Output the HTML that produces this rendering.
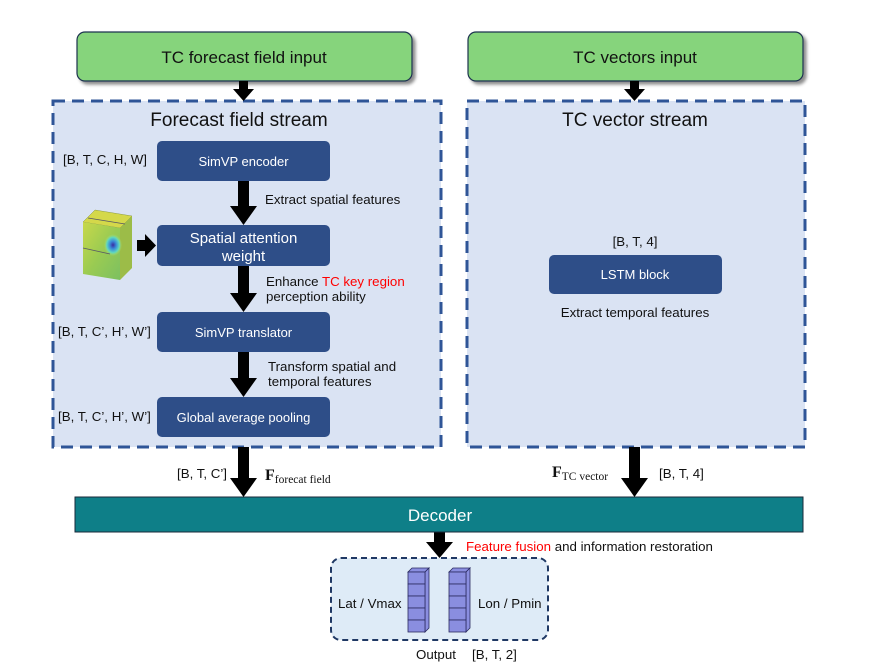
<!DOCTYPE html>
<html><head><meta charset="utf-8"><style>
html,body{margin:0;padding:0;background:#fff;}
svg{display:block;font-family:"Liberation Sans",sans-serif;}
</style></head><body>
<svg width="878" height="670" viewBox="0 0 878 670" xmlns="http://www.w3.org/2000/svg">
<defs>
<filter id="sh" x="-5%" y="-10%" width="115%" height="130%"><feDropShadow dx="3" dy="3" stdDeviation="1.5" flood-color="#000" flood-opacity="0.45"/></filter>
<linearGradient id="cube" x1="0" y1="0" x2="1" y2="1"><stop offset="0" stop-color="#c8d84a"/><stop offset="0.5" stop-color="#9acb52"/><stop offset="1" stop-color="#7cc060"/></linearGradient>
<radialGradient id="blob" cx="0.5" cy="0.5" r="0.5"><stop offset="0" stop-color="#3a2aa0"/><stop offset="0.35" stop-color="#3a8ad8"/><stop offset="0.7" stop-color="#60d8c0"/><stop offset="1" stop-color="#b8e060" stop-opacity="0"/></radialGradient>
</defs>

<rect x="77" y="32" width="335" height="49" rx="8" fill="#86d47c" stroke="#1f3350" stroke-width="1.2" filter="url(#sh)"/>
<text x="244" y="63" font-size="17" text-anchor="middle" fill="#111">TC forecast field input</text>
<rect x="468" y="32" width="335" height="49" rx="8" fill="#86d47c" stroke="#1f3350" stroke-width="1.2" filter="url(#sh)"/>
<text x="635" y="63" font-size="17" text-anchor="middle" fill="#111">TC vectors input</text>

<rect x="53" y="101" width="388" height="346" fill="#dae3f3" stroke="#2f5597" stroke-width="3" stroke-dasharray="12,7"/>
<rect x="467" y="101" width="338" height="346" fill="#dae3f3" stroke="#2f5597" stroke-width="3" stroke-dasharray="12,7"/>
<text x="239" y="126" font-size="19" text-anchor="middle" fill="#111">Forecast field stream</text>
<text x="635" y="126" font-size="19" text-anchor="middle" fill="#111">TC vector stream</text>

<g fill="#000">
<polygon points="239,81 248,81 248,89 254,89 243.5,101 233,89 239,89"/>
<polygon points="630,81 639,81 639,89 645,89 634.5,101 624,89 630,89"/>
<polygon points="238,181 249,181 249,206 257,206 243.5,225 230,206 238,206"/>
<polygon points="238,266 249,266 249,293 257,293 243.5,312 230,293 238,293"/>
<polygon points="238,352 249,352 249,378 257,378 243.5,397 230,378 238,378"/>
<polygon points="238,447 249,447 249,478 257,478 243.5,497 230,478 238,478"/>
<polygon points="629,447 640,447 640,478 648,478 634.5,497 621,478 629,478"/>
<polygon points="434,532 445,532 445,542 453,542 439.5,558 426,542 434,542"/>
<polygon points="137,240 145,240 145,234 156,245.5 145,257 145,251 137,251"/>
</g>

<g fill="#2e4e88">
<rect x="157" y="141" width="173" height="40" rx="5"/>
<rect x="157" y="225" width="173" height="41" rx="5"/>
<rect x="157" y="312" width="173" height="40" rx="5"/>
<rect x="157" y="397" width="173" height="40" rx="5"/>
<rect x="549" y="255" width="173" height="39" rx="5"/>
</g>
<g fill="#fff" text-anchor="middle">
<text x="243.5" y="166" font-size="13">SimVP encoder</text>
<text x="243.5" y="243" font-size="15">Spatial attention</text>
<text x="243.5" y="261" font-size="15">weight</text>
<text x="243.5" y="337" font-size="13">SimVP translator</text>
<text x="243.5" y="422" font-size="13">Global average pooling</text>
<text x="635" y="279" font-size="13">LSTM block</text>
</g>

<polygon points="83,222 95,210 132,216 120,228" fill="#d4d84a" stroke="#8a9a40" stroke-width="0.5"/>
<polygon points="120,228 132,216 132,268 120,280" fill="#9cbc48"/>
<polygon points="83,222 120,228 120,280 83,274" fill="url(#cube)"/>
<ellipse cx="113" cy="245" rx="9" ry="11" fill="url(#blob)"/>
<line x1="83" y1="248" x2="110" y2="254" stroke="#556" stroke-width="0.7"/>
<line x1="88" y1="218" x2="125" y2="224" stroke="#556" stroke-width="0.7"/>

<rect x="75" y="497" width="728" height="35" fill="#0e7f88" stroke="#1a2a3a" stroke-width="1"/>
<text x="440" y="521" font-size="17" text-anchor="middle" fill="#fff">Decoder</text>

<rect x="331" y="558" width="217" height="82" rx="10" fill="#deebf7" stroke="#1f3864" stroke-width="2" stroke-dasharray="6,4"/>
<g fill="#8a8ee0" stroke="#2a2a60" stroke-width="0.8">
<polygon points="408,572 412,568 429,568 425,572"/>
<polygon points="425,572 429,568 429,628 425,632"/>
<rect x="408" y="572" width="17" height="12"/><rect x="408" y="584" width="17" height="12"/><rect x="408" y="596" width="17" height="12"/><rect x="408" y="608" width="17" height="12"/><rect x="408" y="620" width="17" height="12"/>
<polygon points="449,572 453,568 470,568 466,572"/>
<polygon points="466,572 470,568 470,628 466,632"/>
<rect x="449" y="572" width="17" height="12"/><rect x="449" y="584" width="17" height="12"/><rect x="449" y="596" width="17" height="12"/><rect x="449" y="608" width="17" height="12"/><rect x="449" y="620" width="17" height="12"/>
</g>

<g font-size="13.3" fill="#111">
<text x="63" y="164">[B, T, C, H, W]</text>
<text x="265" y="204">Extract spatial features</text>
<text x="266" y="286">Enhance <tspan fill="#ff0000">TC key region</tspan></text>
<text x="266" y="301">perception ability</text>
<text x="58" y="336">[B, T, C’, H’, W’]</text>
<text x="268" y="371">Transform spatial and</text>
<text x="268" y="386">temporal features</text>
<text x="58" y="421">[B, T, C’, H’, W’]</text>
<text x="635" y="246" text-anchor="middle">[B, T, 4]</text>
<text x="635" y="317" text-anchor="middle">Extract temporal features</text>
<text x="177" y="478">[B, T, C’]</text>
<text x="659" y="478">[B, T, 4]</text>
<text x="466" y="551"><tspan fill="#ff0000">Feature fusion</tspan> and information restoration</text>
<text x="338" y="608">Lat / Vmax</text>
<text x="478" y="608">Lon / Pmin</text>
<text x="416" y="659">Output</text>
<text x="472" y="659">[B, T, 2]</text>
</g>
<g font-family="Liberation Serif, serif" fill="#111">
<text x="265" y="480" font-size="16" font-weight="bold">F<tspan font-size="11.5" font-weight="normal" dy="3">forecat  field</tspan></text>
<text x="552" y="477" font-size="16" font-weight="bold">F<tspan font-size="11.5" font-weight="normal" dy="3">TC vector</tspan></text>
</g>
</svg>
</body></html>
